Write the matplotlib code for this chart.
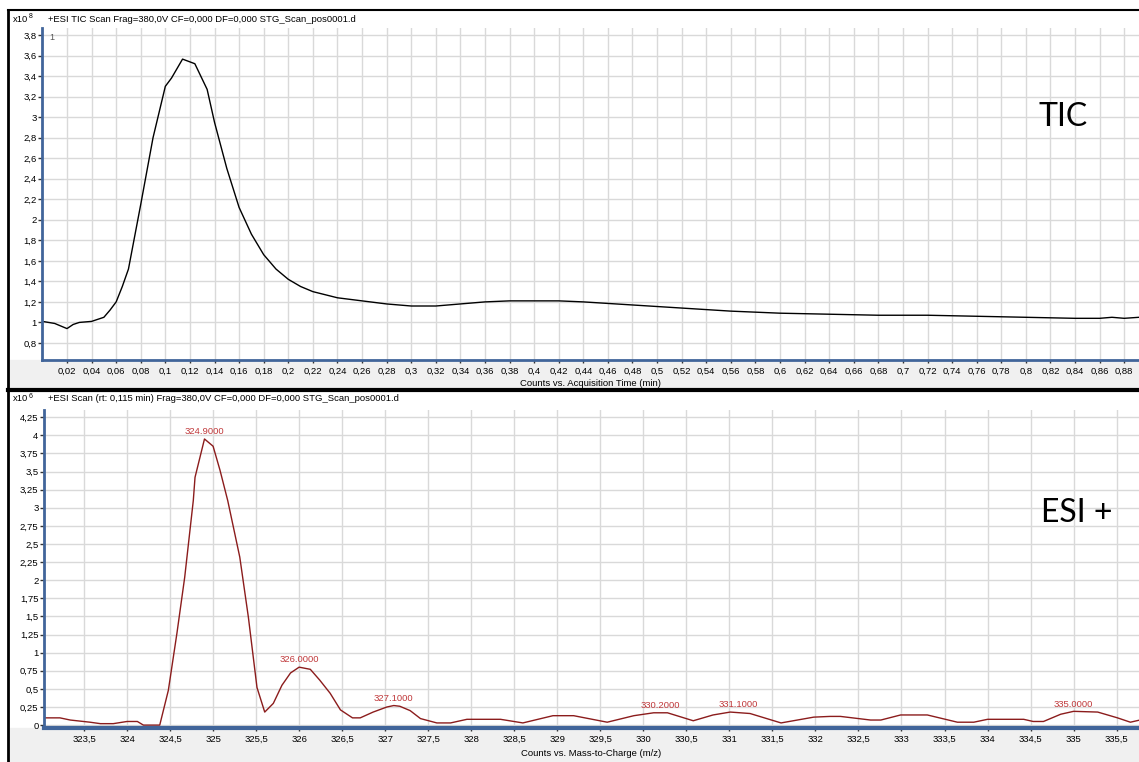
import matplotlib
matplotlib.use("Agg")
import matplotlib.pyplot as plt
from matplotlib.ticker import FixedLocator, FuncFormatter
from matplotlib.patches import Rectangle
import numpy as np

# TIC chromatogram (x: min, y: counts x10^8)
tic_time = [0.0, 0.005, 0.01, 0.02, 0.025, 0.03, 0.04, 0.05, 0.055, 0.06, 0.065,
            0.07, 0.08, 0.09, 0.1, 0.105, 0.114, 0.124, 0.134, 0.14, 0.15, 0.16,
            0.17, 0.18, 0.19, 0.2, 0.21, 0.22, 0.23, 0.24, 0.26, 0.28, 0.3, 0.32,
            0.34, 0.36, 0.38, 0.4, 0.42, 0.44, 0.48, 0.52, 0.56, 0.6, 0.64, 0.68,
            0.72, 0.76, 0.8, 0.84, 0.86, 0.87, 0.88, 0.892]
tic_counts = [1.01, 1.0, 0.99, 0.94, 0.98, 1.0, 1.01, 1.05, 1.12, 1.2, 1.35,
              1.52, 2.15, 2.8, 3.3, 3.38, 3.565, 3.52, 3.27, 2.95, 2.5, 2.12,
              1.86, 1.66, 1.52, 1.42, 1.35, 1.3, 1.27, 1.24, 1.21, 1.18, 1.16, 1.16,
              1.18, 1.2, 1.21, 1.21, 1.21, 1.2, 1.17, 1.14, 1.11, 1.09, 1.08, 1.07,
              1.07, 1.06, 1.05, 1.04, 1.04, 1.05, 1.04, 1.05]

# ESI+ mass spectrum (x: m/z, y: counts x10^6)
ms_mz = [323.03, 323.22, 323.34, 323.57, 323.69, 323.84, 324.0, 324.12, 324.19,
         324.38, 324.48, 324.58, 324.67, 324.77, 324.79, 324.9, 325.0, 325.08,
         325.17, 325.31, 325.41, 325.51, 325.6, 325.7, 325.8, 325.9, 326.0,
         326.13, 326.24, 326.36, 326.48, 326.62, 326.71, 326.86, 327.02, 327.1,
         327.17, 327.29, 327.41, 327.6, 327.76, 327.95, 328.34, 328.6, 328.95,
         329.19, 329.58, 329.89, 330.12, 330.28, 330.58, 330.81, 331.01, 331.24,
         331.6, 331.79, 331.98, 332.17, 332.29, 332.64, 332.76, 332.99, 333.3,
         333.65, 333.84, 334.0, 334.42, 334.53, 334.65, 334.85, 335.0, 335.28,
         335.51, 335.66, 335.77]
ms_counts = [0.1, 0.1, 0.07, 0.04, 0.02, 0.02, 0.05, 0.05, 0.0,
             0.0, 0.48, 1.27, 2.04, 3.1, 3.42, 3.95, 3.85, 3.52,
             3.1, 2.32, 1.49, 0.52, 0.18, 0.3, 0.55, 0.72, 0.8,
             0.77, 0.62, 0.44, 0.21, 0.1, 0.1, 0.18, 0.25, 0.27,
             0.26, 0.2, 0.09, 0.03, 0.03, 0.08, 0.08, 0.03, 0.13,
             0.13, 0.04, 0.13, 0.17, 0.17, 0.06, 0.14, 0.18, 0.16,
             0.03, 0.07, 0.11, 0.12, 0.12, 0.07, 0.07, 0.14, 0.14,
             0.04, 0.04, 0.08, 0.08, 0.05, 0.05, 0.15, 0.19, 0.18,
             0.1, 0.04, 0.07]

peak_mz = [324.9, 326.0, 327.1, 330.2, 331.1, 335.0]
peak_counts = [3.95, 0.8, 0.27, 0.17, 0.18, 0.19]

tic_xticks = np.round(np.arange(0.02, 0.881, 0.02), 2)
tic_yticks = np.round(np.arange(0.8, 3.81, 0.2), 2)
ms_xticks = np.arange(323.5, 335.51, 0.5)
ms_yticks = np.arange(0, 4.26, 0.25)

W, H = 1139, 762
SMALL = 6.8
plt.rcParams['font.family'] = ['Liberation Sans', 'DejaVu Sans']
fig = plt.figure(figsize=(W / 100, H / 100), dpi=100)


def fx(px):
    return px / W


def fy(py):
    return 1 - py / H


def comma(v, pos=None):
    s = f"{v:.2f}".rstrip('0').rstrip('.')
    return s.replace('.', ',')


# gray strips under the axes
for y0, y1 in [(360, 390), (728, 762)]:
    fig.patches.append(Rectangle((fx(8), fy(y1)), 1, (y1 - y0) / H,
                                 transform=fig.transFigure, color='#f0f0f0', zorder=-10))

grid_col = '#d9d9d9'
spine_col = '#41659a'


def style(ax, bottom_lw):
    ax.grid(True, color=grid_col, linewidth=1)
    ax.set_axisbelow(True)
    for s in ['top', 'right']:
        ax.spines[s].set_visible(False)
    ax.spines['left'].set_color(spine_col)
    ax.spines['left'].set_linewidth(2)
    ax.spines['bottom'].set_color(spine_col)
    ax.spines['bottom'].set_linewidth(bottom_lw)
    ax.tick_params(axis='y', length=3, width=1, pad=1, labelsize=SMALL, color='#333333')
    ax.tick_params(axis='x', length=2, width=1, pad=3, labelsize=SMALL, color='#333333')
    ax.xaxis.set_major_formatter(FuncFormatter(comma))
    ax.yaxis.set_major_formatter(FuncFormatter(comma))


# top: TIC
ax1 = fig.add_axes([fx(42.4), fy(360), 1 - fx(42.4), (360 - 28) / H])
ax1.plot(tic_time, tic_counts, color='black', linewidth=1)
ax1.set_xlim(0, 0.892)
ax1.set_ylim(0.634, 3.868)
ax1.xaxis.set_major_locator(FixedLocator(tic_xticks))
ax1.yaxis.set_major_locator(FixedLocator(tic_yticks))
style(ax1, 2)
ax1.text(0.006, 3.78, '1', fontsize=6.5, color='#555555', ha='left', va='center')
ax1.text(0.830, 3.0, 'TIC', fontsize=23, family=['Lato', 'DejaVu Sans'],
         ha='center', va='center')

# bottom: ESI+ spectrum
ax2 = fig.add_axes([fx(44), fy(728), 1 - fx(44), (728 - 410) / H])
ax2.plot(ms_mz, ms_counts, color='#8b1c1c', linewidth=1)
ax2.set_xlim(323.035, 335.76)
ax2.set_ylim(-0.04, 4.35)
ax2.xaxis.set_major_locator(FixedLocator(ms_xticks))
ax2.yaxis.set_major_locator(FixedLocator(ms_yticks))
style(ax2, 3)
for mz, c in zip(peak_mz, peak_counts):
    ax2.annotate(f"{mz:.4f}", (mz, c), xytext=(0, 2), textcoords='offset points',
                 ha='center', va='bottom', fontsize=SMALL, color='#c0393b')
ax2.text(0.943, 0.676, 'ESI +', transform=ax2.transAxes, fontsize=23,
         family=['Lato', 'DejaVu Sans'], ha='center', va='center')

# headers and axis titles
hdr = dict(fontsize=SMALL, va='center', ha='left')
fig.text(fx(13), fy(20), 'x10', **hdr)
fig.text(fx(29), fy(17), '8', fontsize=5, va='center', ha='left')
fig.text(fx(48), fy(20), '+ESI TIC Scan Frag=380,0V CF=0,000 DF=0,000 STG_Scan_pos0001.d', **hdr)
fig.text(fx(13), fy(399), 'x10', **hdr)
fig.text(fx(29), fy(396), '6', fontsize=5, va='center', ha='left')
fig.text(fx(48), fy(399),
         '+ESI Scan (rt: 0,115 min) Frag=380,0V CF=0,000 DF=0,000 STG_Scan_pos0001.d', **hdr)
fig.text(fx(591), fy(384), 'Counts vs. Acquisition Time (min)', fontsize=SMALL,
         ha='center', va='center')
fig.text(fx(591), fy(754), 'Counts vs. Mass-to-Charge (m/z)', fontsize=SMALL,
         ha='center', va='center')

# black frame lines
fig.add_artist(plt.Line2D([fx(8), 1], [fy(10), fy(10)], color='black', linewidth=1.5))
fig.add_artist(plt.Line2D([fx(8), fx(8)], [fy(10), 0], color='black', linewidth=2))
fig.add_artist(plt.Line2D([fx(8), 1], [fy(390), fy(390)], color='black', linewidth=3))

fig.savefig('out.png', dpi=100)
